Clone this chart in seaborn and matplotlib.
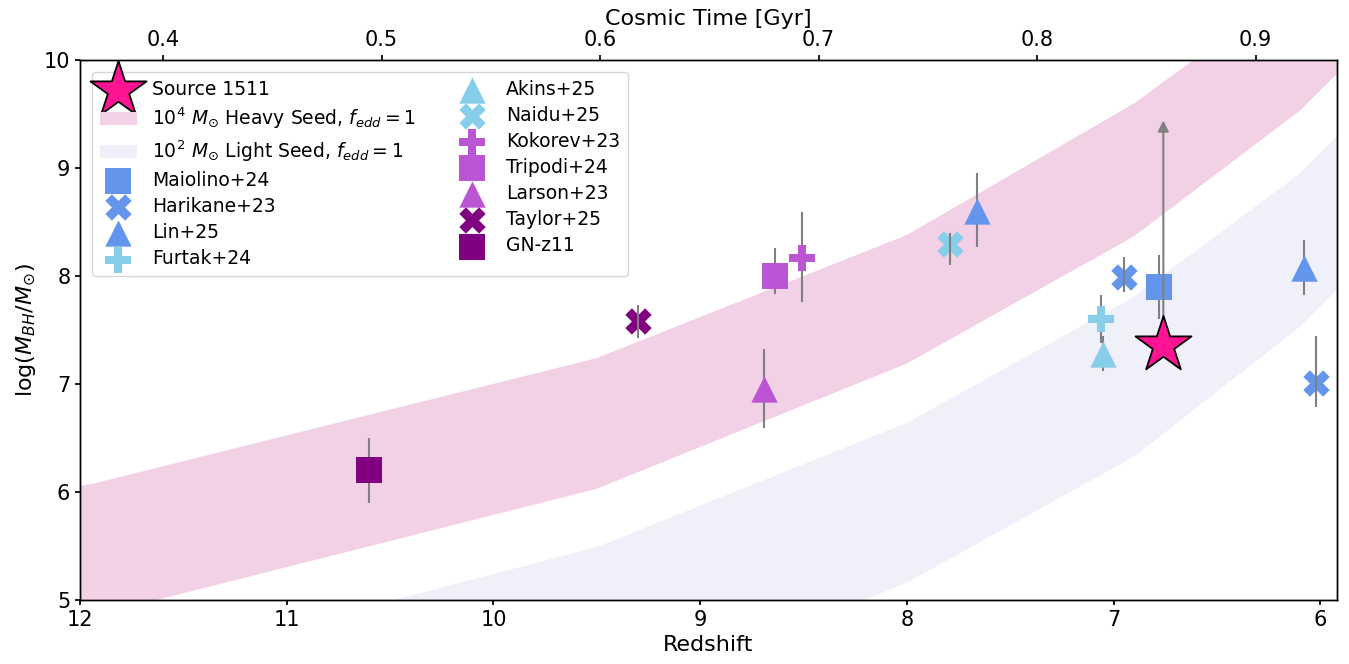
import matplotlib
matplotlib.use("Agg")
import matplotlib.pyplot as plt
import seaborn as sns
import numpy as np

# ---------------- data ----------------
# seed growth bands (redshift vertices, log M_BH edges)
band_z   = [12.0, 11.93, 9.5, 8.0, 6.9, 6.1, 5.8]
heavy_lo = [4.82, 4.855, 6.03, 7.19, 8.37, 9.53, 10.10]
heavy_hi = [6.056, 6.08, 7.24, 8.38, 9.60, 10.72, 11.20]
light_lo = [2.75, 2.80, 4.00, 5.16, 6.33, 7.53, 8.10]
light_hi = [4.25, 4.28, 5.49, 6.64, 7.81, 8.95, 9.52]

# Source 1511 (lower limit)
source_z = [6.76]
source_m = [7.36]
source_lim = [9.44]

# literature
maiolino_z, maiolino_m, maiolino_lo, maiolino_hi = [6.78], [7.90], [0.30], [0.29]
harikane_z, harikane_m, harikane_lo, harikane_hi = [6.95, 6.02], [7.99, 7.01], [0.14, 0.22], [0.19, 0.43]
lin_z, lin_m, lin_lo, lin_hi = [7.66, 6.08], [8.60, 8.07], [0.33, 0.25], [0.35, 0.26]
furtak_z, furtak_m, furtak_lo, furtak_hi = [7.06], [7.60], [0.22], [0.22]
akins_z, akins_m, akins_lo, akins_hi = [7.05], [7.28], [0.16], [0.16]
naidu_z, naidu_m, naidu_lo, naidu_hi = [7.79], [8.30], [0.20], [0.10]
kokorev_z, kokorev_m, kokorev_lo, kokorev_hi = [8.51], [8.17], [0.41], [0.42]
tripodi_z, tripodi_m, tripodi_lo, tripodi_hi = [8.64], [8.00], [0.17], [0.26]
larson_z, larson_m, larson_lo, larson_hi = [8.69], [6.95], [0.36], [0.37]
taylor_z, taylor_m, taylor_lo, taylor_hi = [9.30], [7.58], [0.15], [0.15]
gnz11_z, gnz11_m, gnz11_lo, gnz11_hi = [10.60], [6.20], [0.30], [0.30]

x_ticks = [12, 11, 10, 9, 8, 7, 6]
y_ticks = [5, 6, 7, 8, 9, 10]
time_ticks = [0.4, 0.5, 0.6, 0.7, 0.8, 0.9]

# ---------------- style ----------------
sns.set_theme(style="ticks")
plt.rcParams["font.family"] = ["DejaVu Sans"]
plt.rcParams["mathtext.fontset"] = "dejavusans"
plt.rcParams["axes.edgecolor"] = "black"
plt.rcParams["axes.linewidth"] = 1.0
plt.rcParams["text.color"] = "black"
plt.rcParams["axes.labelcolor"] = "black"
plt.rcParams["xtick.color"] = "black"
plt.rcParams["ytick.color"] = "black"
plt.rcParams["xtick.major.size"] = 3.5
plt.rcParams["ytick.major.size"] = 3.5

fig = plt.figure(figsize=(13.49, 6.64), dpi=100)
ax = fig.add_axes([80 / 1349, 1 - 600 / 664, (1337 - 80) / 1349, (600 - 60) / 664])

heavy_col = "#f2d0e6"
light_col = "#f0f0fa"

hb = ax.fill_between(band_z, heavy_lo, heavy_hi, color=heavy_col, lw=0, zorder=0,
                     label=r"$10^4\ M_{\odot}$ Heavy Seed, $f_{edd}=1$")
lb = ax.fill_between(band_z, light_lo, light_hi, color=light_col, lw=0, zorder=0,
                     label=r"$10^2\ M_{\odot}$ Light Seed, $f_{edd}=1$")

S = 360
datasets = [
    ("Maiolino+24", "cornflowerblue", "s", maiolino_z, maiolino_m, maiolino_lo, maiolino_hi),
    ("Harikane+23", "cornflowerblue", "X", harikane_z, harikane_m, harikane_lo, harikane_hi),
    ("Lin+25", "cornflowerblue", "^", lin_z, lin_m, lin_lo, lin_hi),
    ("Furtak+24", "skyblue", "P", furtak_z, furtak_m, furtak_lo, furtak_hi),
    ("Akins+25", "skyblue", "^", akins_z, akins_m, akins_lo, akins_hi),
    ("Naidu+25", "skyblue", "X", naidu_z, naidu_m, naidu_lo, naidu_hi),
    ("Kokorev+23", "mediumorchid", "P", kokorev_z, kokorev_m, kokorev_lo, kokorev_hi),
    ("Tripodi+24", "mediumorchid", "s", tripodi_z, tripodi_m, tripodi_lo, tripodi_hi),
    ("Larson+23", "mediumorchid", "^", larson_z, larson_m, larson_lo, larson_hi),
    ("Taylor+25", "purple", "X", taylor_z, taylor_m, taylor_lo, taylor_hi),
    ("GN-z11", "purple", "s", gnz11_z, gnz11_m, gnz11_lo, gnz11_hi),
]

handles = []
for name, col, mk, zz, mm, lo, hi in datasets:
    ez = 4 if mk == "X" else 2
    ax.errorbar(zz, mm, yerr=[lo, hi], fmt="none", ecolor="gray", elinewidth=1.5,
                capsize=0, zorder=ez)
    sns.scatterplot(x=zz, y=mm, marker=mk, s=S, color=col, linewidth=0,
                    ax=ax, zorder=3, legend=False)
    handles.append(ax.collections[-1])
    handles[-1].set_label(name)

# Source 1511 lower limit arrow
for zs, ms, ml in zip(source_z, source_m, source_lim):
    ax.annotate("", xy=(zs, ml), xytext=(zs, ms),
                arrowprops=dict(arrowstyle="-|>", color="gray", lw=1.5,
                                mutation_scale=16, shrinkA=0, shrinkB=0),
                zorder=5)
sns.scatterplot(x=source_z, y=source_m, marker="*", s=1800, color="deeppink",
                edgecolor="black", linewidth=1.3, ax=ax, zorder=6, legend=False)
star = ax.collections[-1]
star.set_label("Source 1511")

ax.set_xlim(12, 5.92)
ax.set_ylim(5, 10)
ax.set_xticks(x_ticks)
ax.set_yticks(y_ticks)
ax.tick_params(labelsize=15)
ax.set_xlabel("Redshift", fontsize=16)
ax.set_ylabel(r"log($M_{BH}/M_{\odot}$)", fontsize=16)

ax2 = ax.twiny()
ax2.set_xlim(0.362, 0.9373)
ax2.set_xticks(time_ticks)
ax2.set_xticklabels([f"{t:.1f}" for t in time_ticks])
ax2.tick_params(labelsize=15)
ax2.set_xlabel("Cosmic Time [Gyr]", fontsize=16)

leg_handles = [star, hb, lb] + handles
ax.legend(handles=leg_handles, labels=[h.get_label() for h in leg_handles],
          loc="upper left", ncol=2, fontsize=13.5, borderaxespad=0.65,
          columnspacing=2.0, labelspacing=0.38)

fig.savefig("out.png", dpi=100)
